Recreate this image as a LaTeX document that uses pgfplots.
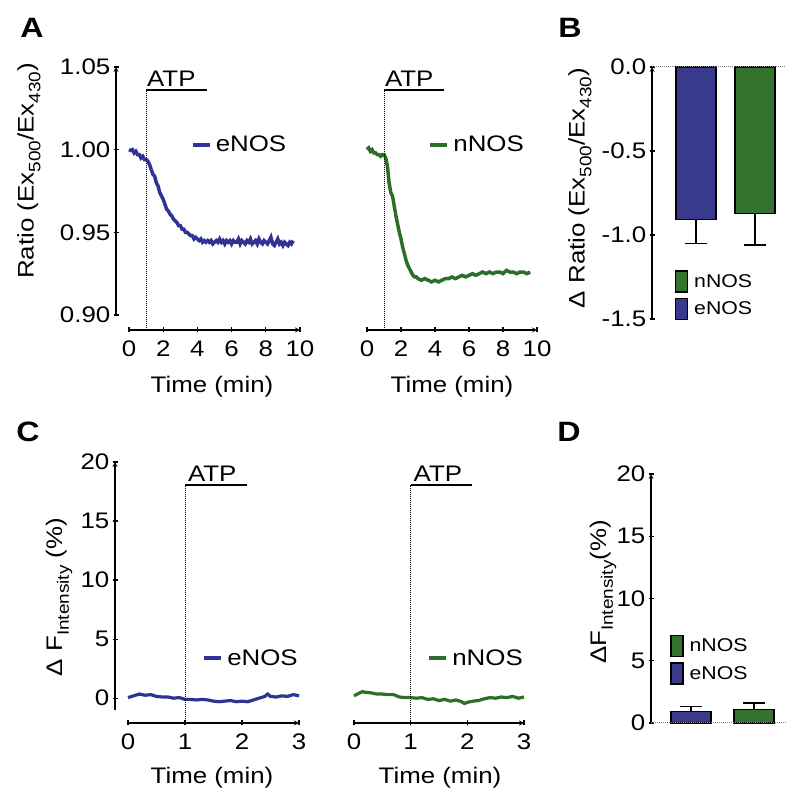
\documentclass[border=0pt]{standalone}
\usepackage{fontspec}
\setmainfont{Liberation Sans}[FakeStretch=1.15]
\usepackage{pgfplots}
\pgfplotsset{compat=1.18}
\definecolor{lblue}{RGB}{48,50,148}
\definecolor{lgreen}{RGB}{44,112,40}
\definecolor{bblue}{RGB}{58,58,140}
\definecolor{bgreen}{RGB}{52,115,45}
\newcommand\tf{\fontsize{22.5bp}{26bp}\selectfont}
\newcommand\lf{\fontsize{18.5bp}{22bp}\selectfont}
\newcommand\pf{\fontsize{28bp}{32bp}\selectfont\bfseries}
\newcommand\sub[1]{\raisebox{-0.3em}{\fontsize{16.5bp}{17bp}\selectfont #1}}
\pgfplotsset{
 prism/.style={scale only axis, anchor=south west, clip=false,
   axis line style={line width=1.2bp,-,black},
   tick style={line width=1.2bp,black},
   major tick length=5bp, tick align=outside,
   tick label style={font=\tf},
   /pgf/number format/assume math mode=true,
   xticklabel style={inner sep=0pt, yshift=-8bp},
   yticklabel style={inner sep=0pt, xshift=-3bp},
 },
 lineleg/.style={legend style={draw=none, fill=none, font=\tf, at={#1}, anchor=west, inner sep=0pt, nodes={inner sep=2bp}, column sep=2bp},
   legend image code/.code={\draw[##1, line width=4bp] (0bp,0bp) -- (17bp,0bp);}},
 barleg/.style={legend style={draw=none, fill=none, font=\lf, at={#1}, anchor=north west, inner sep=0pt, nodes={inner sep=1bp}, column sep=5bp, row sep=5bp}},
}
\begin{document}
\begin{tikzpicture}
\useasboundingbox (0bp,0bp) rectangle (800bp,809bp);
% ---------- A left (eNOS) ----------
\begin{axis}[prism, at={(129bp,494bp)}, width=171bp, height=248bp,
  xmin=0, xmax=10, ymin=0.90, ymax=1.05,
  axis x line=bottom, axis y line=left,
  axis x line shift=15bp, axis y line shift=13bp,
  xtick={0,2,4,6,8,10}, ytick={0.90,0.95,1.00,1.05}, yticklabels={0.90,0.95,1.00,1.05},
  lineleg={(axis cs:3.6,1.003)}]
\addplot[lblue, line width=3.5bp] coordinates {
(0.0,1.000)(0.1,0.9995)(0.2,1.000)(0.3,0.998)(0.4,0.999)(0.5,0.997)(0.6,0.997)(0.7,0.995)(0.8,0.996)(0.9,0.994)
(1.0,0.994)(1.1,0.993)(1.2,0.991)(1.3,0.988)(1.4,0.985)(1.5,0.984)(1.6,0.980)(1.7,0.978)(1.8,0.974)(1.9,0.972)
(2.0,0.970)(2.1,0.967)(2.2,0.964)(2.3,0.963)(2.4,0.961)(2.5,0.960)(2.6,0.958)(2.7,0.957)(2.8,0.956)(2.9,0.954)
(3.0,0.954)(3.1,0.952)(3.2,0.952)(3.3,0.950)(3.4,0.950)(3.5,0.949)(3.6,0.948)(3.7,0.948)(3.8,0.946)(3.9,0.947)
(4.0,0.946)(4.1,0.945)(4.2,0.946)(4.3,0.944)(4.4,0.945)(4.5,0.944)(4.6,0.945)(4.7,0.944)(4.8,0.945)(4.9,0.943)
(5.0,0.944)(5.1,0.945)(5.2,0.944)(5.3,0.946)(5.4,0.944)(5.5,0.945)(5.6,0.943)(5.7,0.945)(5.8,0.944)(5.9,0.945)
(6.0,0.943)(6.1,0.945)(6.2,0.944)(6.3,0.944)(6.4,0.946)(6.5,0.943)(6.6,0.945)(6.7,0.944)(6.8,0.943)(6.9,0.945)
(7.0,0.944)(7.1,0.946)(7.2,0.943)(7.3,0.944)(7.4,0.945)(7.5,0.943)(7.6,0.946)(7.7,0.944)(7.8,0.943)(7.9,0.945)
(8.0,0.944)(8.1,0.943)(8.2,0.945)(8.3,0.947)(8.4,0.943)(8.5,0.942)(8.6,0.944)(8.7,0.946)(8.8,0.943)(8.9,0.944)
(9.0,0.942)(9.1,0.944)(9.2,0.943)(9.3,0.942)(9.4,0.944)(9.5,0.943)(9.6,0.945)};
\addlegendentry{eNOS}
\draw[densely dotted, line width=1bp] (axis cs:1,0.8909) -- (axis cs:1,1.036);
\draw[line width=1.5bp] (axis cs:1,1.036) -- (axis cs:4.55,1.036);
\node[font=\tf, anchor=south west, inner sep=0pt, yshift=3bp] at (axis cs:1.05,1.036) {ATP};
\end{axis}
% ---------- A right (nNOS) ----------
\begin{axis}[prism, at={(367bp,494bp)}, width=170bp, height=248bp,
  xmin=0, xmax=10, ymin=0.90, ymax=1.05,
  axis x line=bottom, axis y line=none,
  axis x line shift=15bp,
  xtick={0,2,4,6,8,10},
  lineleg={(axis cs:3.6,1.003)}]
\addplot[lgreen, line width=3.5bp] coordinates {
(0.0,1.000)(0.1,1.001)(0.2,0.999)(0.3,1.000)(0.4,0.998)(0.5,0.998)(0.6,0.997)(0.7,0.997)(0.8,0.996)(0.9,0.997)
(1.0,0.997)(1.1,0.995)(1.2,0.990)(1.3,0.980)(1.4,0.974)(1.5,0.972)(1.6,0.966)(1.7,0.960)(1.8,0.955)(1.9,0.950)
(2.0,0.946)(2.1,0.941)(2.2,0.937)(2.3,0.933)(2.4,0.930)(2.5,0.928)(2.6,0.926)(2.7,0.924)(2.8,0.923)(2.9,0.923)
(3.0,0.922)(3.2,0.921)(3.4,0.922)(3.6,0.921)(3.8,0.920)(4.0,0.921)(4.2,0.920)(4.4,0.921)(4.6,0.922)(4.8,0.922)
(5.0,0.923)(5.2,0.922)(5.4,0.923)(5.6,0.924)(5.8,0.923)(6.0,0.924)(6.2,0.925)(6.4,0.924)(6.6,0.925)(6.8,0.926)
(7.0,0.925)(7.2,0.926)(7.4,0.925)(7.6,0.926)(7.8,0.926)(8.0,0.925)(8.2,0.927)(8.4,0.926)(8.6,0.926)(8.8,0.925)
(9.0,0.926)(9.2,0.926)(9.4,0.925)(9.6,0.926)};
\addlegendentry{nNOS}
\draw[densely dotted, line width=1bp] (axis cs:1,0.8909) -- (axis cs:1,1.036);
\draw[line width=1.5bp] (axis cs:1,1.036) -- (axis cs:4.55,1.036);
\node[font=\tf, anchor=south west, inner sep=0pt, yshift=3bp] at (axis cs:1.05,1.036) {ATP};
\end{axis}
% ---------- B ----------
\begin{axis}[prism, at={(652bp,490bp)}, width=133bp, height=252bp,
  xmin=-0.746, xmax=1.508, ymin=-1.5, ymax=0,
  axis x line=none, axis y line=left,
  ytick={-1.5,-1,-0.5,0}, yticklabels={-1.5,-1.0,-0.5,0.0},
  barleg={(axis cs:-0.36,-1.21)}]
\addplot[forget plot, ybar, bar width=40bp, bar shift=0pt, fill=bblue, draw=black, line width=1.2bp,
  error bars/.cd, y dir=minus, y explicit, error bar style={line width=1.2bp, black},
  error mark options={line width=1.2bp, mark size=11bp, black, rotate=90}]
  coordinates {(0,-0.91) -= (0,0.14)};
\addplot[forget plot, ybar, bar width=40bp, bar shift=0pt, fill=bgreen, draw=black, line width=1.2bp,
  error bars/.cd, y dir=minus, y explicit, error bar style={line width=1.2bp, black},
  error mark options={line width=1.2bp, mark size=11bp, black, rotate=90}]
  coordinates {(1,-0.87) -= (0,0.19)};
\draw[densely dotted, gray, line width=1bp] (rel axis cs:0,1) -- (rel axis cs:1,1);
\addlegendimage{legend image code/.code={\draw[fill=bgreen, draw=black, line width=1.2bp] (0bp,-10.5bp) rectangle (12bp,10.5bp);}}
\addlegendentry{nNOS}
\addlegendimage{legend image code/.code={\draw[fill=bblue, draw=black, line width=1.2bp] (0bp,-10.5bp) rectangle (12bp,10.5bp);}}
\addlegendentry{eNOS}
\end{axis}
% ---------- C left (eNOS) ----------
\begin{axis}[prism, at={(128bp,99bp)}, width=171bp, height=248bp,
  xmin=0, xmax=3, ymin=-1, ymax=20,
  axis x line=bottom, axis y line=left,
  axis x line shift=13bp, axis y line shift=13bp,
  xtick={0,1,2,3}, ytick={0,5,10,15,20},
  lineleg={(axis cs:1.3,3.4)}]
\addplot[lblue, line width=3.2bp] coordinates {
(0.0,0.05)(0.1,0.2)(0.2,0.35)(0.3,0.25)(0.4,0.3)(0.5,0.15)(0.6,0.1)(0.7,0.1)(0.8,0.0)(0.9,0.05)
(1.0,-0.1)(1.1,-0.1)(1.2,-0.15)(1.3,-0.1)(1.4,-0.15)(1.5,-0.25)(1.6,-0.3)(1.7,-0.25)(1.8,-0.2)(1.9,-0.3)
(2.0,-0.25)(2.1,-0.3)(2.2,-0.15)(2.3,0.0)(2.4,0.15)(2.45,0.35)(2.5,0.15)(2.6,0.1)(2.7,0.2)(2.8,0.15)(2.9,0.3)(3.0,0.2)};
\addlegendentry{eNOS}
\draw[densely dotted, line width=1bp] (axis cs:1,-2.1) -- (axis cs:1,18.05);
\draw[line width=1.5bp] (axis cs:1,18.05) -- (axis cs:2.08,18.05);
\node[font=\tf, anchor=south west, inner sep=0pt, yshift=3bp] at (axis cs:1.05,18.05) {ATP};
\end{axis}
% ---------- C right (nNOS) ----------
\begin{axis}[prism, at={(354bp,99bp)}, width=170bp, height=248bp,
  xmin=0, xmax=3, ymin=-1, ymax=20,
  axis x line=bottom, axis y line=none,
  axis x line shift=13bp,
  xtick={0,1,2,3},
  lineleg={(axis cs:1.29,3.4)}]
\addplot[lgreen, line width=3.2bp] coordinates {
(0.0,0.2)(0.1,0.45)(0.15,0.55)(0.2,0.5)(0.3,0.45)(0.4,0.35)(0.5,0.35)(0.6,0.3)(0.7,0.3)(0.8,0.1)(0.9,0.05)
(1.0,0.05)(1.1,0.0)(1.2,0.05)(1.3,-0.1)(1.4,-0.05)(1.5,-0.2)(1.6,-0.1)(1.7,-0.25)(1.8,-0.15)(1.9,-0.3)(1.95,-0.45)
(2.0,-0.35)(2.1,-0.25)(2.2,-0.2)(2.3,-0.05)(2.4,0.05)(2.5,0.0)(2.6,0.1)(2.7,0.05)(2.8,0.15)(2.9,0.0)(3.0,0.1)};
\addlegendentry{nNOS}
\draw[densely dotted, line width=1bp] (axis cs:1,-2.1) -- (axis cs:1,18.05);
\draw[line width=1.5bp] (axis cs:1,18.05) -- (axis cs:2.08,18.05);
\node[font=\tf, anchor=south west, inner sep=0pt, yshift=3bp] at (axis cs:1.05,18.05) {ATP};
\end{axis}
% ---------- D ----------
\begin{axis}[prism, at={(651bp,86bp)}, width=135bp, height=249bp,
  xmin=-0.635, xmax=1.508, ymin=0, ymax=20,
  axis x line=none, axis y line=left,
  ytick={0,5,10,15,20},
  barleg={(axis cs:-0.33,7.07)}]
\addplot[forget plot, ybar, bar width=40bp, bar shift=0pt, fill=bblue, draw=black, line width=1.2bp,
  error bars/.cd, y dir=plus, y explicit, error bar style={line width=1.2bp, black},
  error mark options={line width=1.2bp, mark size=11bp, black, rotate=90}]
  coordinates {(0,0.9) += (0,0.4)};
\addplot[forget plot, ybar, bar width=40bp, bar shift=0pt, fill=bgreen, draw=black, line width=1.2bp,
  error bars/.cd, y dir=plus, y explicit, error bar style={line width=1.2bp, black},
  error mark options={line width=1.2bp, mark size=11bp, black, rotate=90}]
  coordinates {(1,1.1) += (0,0.5)};
\draw[densely dotted, gray, line width=1bp] (rel axis cs:0,0) -- (rel axis cs:1,0);
\addlegendimage{legend image code/.code={\draw[fill=bgreen, draw=black, line width=1.2bp] (0bp,-10.5bp) rectangle (12bp,10.5bp);}}
\addlegendentry{nNOS}
\addlegendimage{legend image code/.code={\draw[fill=bblue, draw=black, line width=1.2bp] (0bp,-10.5bp) rectangle (12bp,10.5bp);}}
\addlegendentry{eNOS}
\end{axis}
% ---------- labels ----------
\node[font=\pf] at (32bp,781bp) {A};
\node[font=\pf] at (570bp,781bp) {B};
\node[font=\pf] at (28bp,377bp) {C};
\node[font=\pf] at (569bp,377bp) {D};
\node[font=\tf, rotate=90] at (29bp,638bp) {Ratio (Ex\sub{500}/Ex\sub{430})};
\node[font=\tf, rotate=90] at (580bp,621bp) {Δ Ratio (Ex\sub{500}/Ex\sub{430})};
\node[font=\tf, rotate=90] at (59bp,212bp) {Δ F\sub{Intensity} (\%)};
\node[font=\tf, rotate=90] at (603bp,217bp) {ΔF\sub{Intensity}(\%)};
\node[font=\tf] at (212bp,422bp) {Time (min)};
\node[font=\tf] at (452bp,422bp) {Time (min)};
\node[font=\tf] at (212bp,31bp) {Time (min)};
\node[font=\tf] at (440bp,31bp) {Time (min)};
\end{tikzpicture}
\end{document}
